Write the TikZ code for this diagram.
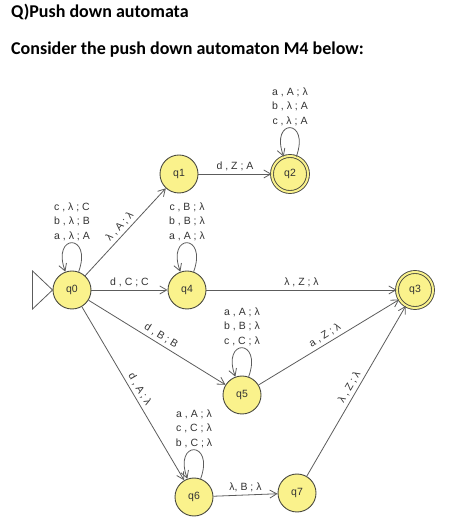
\documentclass[tikz,border=0pt]{standalone}
\usepackage{fontspec}
\setmainfont{Carlito}
\newfontfamily\pdafont{Liberation Sans}
\usepackage{xcolor}
\usepackage{tikz}
\usetikzlibrary{arrows.meta, positioning}
\definecolor{pdaYellow}{HTML}{FAF28C}
\definecolor{pdaBorder}{HTML}{4A4A40}
\definecolor{pdaEdge}{HTML}{5C5C5C}
\definecolor{pdaText}{HTML}{333333}
\tikzset{
  pda/state/.style     = {circle, draw=pdaBorder, fill=pdaYellow, line width=0.9pt,
                          minimum size=38pt, inner sep=0pt, text=pdaText,
                          font=\fontsize{10.5}{12}\pdafont},
  pda/final/.style     = {pda/state, double=pdaYellow, double distance=2pt, minimum size=36pt},
  pda/arrow/.style     = {-{Straight Barb[length=7pt, width=8pt]}, line width=0.8pt, draw=pdaEdge},
  pda/init/.style      = {line width=0.8pt, draw=pdaEdge},
  pda/loop/.style      = {out=70, in=110, distance=41pt},
  pda/label/.style     = {font=\fontsize{10.5}{12}\pdafont, text=pdaText, inner sep=3pt},
  pda/looplabel/.style = {above, align=center, font=\fontsize{10.5}{14.5}\pdafont,
                          text=pdaText, inner sep=2pt},
  pda/title/.style     = {anchor=west, inner sep=0pt, font=\fontsize{18}{22}\selectfont\bfseries},
}
\begin{document}
\begin{tikzpicture}[x=1pt, y=1pt]
      \useasboundingbox (0,0) rectangle (466,529);
      % heading
      \node[pda/title] (head) at (11,517) {Q)Push down automata};
      \node[pda/title] (ask)  at (11,479) {Consider the push down automaton M4 below:};
      % states
      \node[pda/state] (q0) at (72,239)  {q0};
      \node[pda/state] (q1) at (179,355) {q1};
      \node[pda/final] (q2) at (290,355) {q2};
      \node[pda/state] (q4) at (187,239) {q4};
      \node[pda/final] (q3) at (415,239) {q3};
      \node[pda/state] (q5) at (242,134) {q5};
      \node[pda/state] (q6) at (194,32)  {q6};
      \node[pda/state] (q7) at (297,36)  {q7};
      % start marker
      \draw[pda/init] (q0.west) -- ++(-20,19) -- ++(0,-38) -- cycle;
      % transitions
      \draw[pda/arrow] (q0) -- node[pda/label, sloped, above] {λ , A ; λ} (q1);
      \draw[pda/arrow] (q1) -- node[pda/label, above] {d , Z ; A} (q2);
      \draw[pda/arrow] (q0) -- node[pda/label, above] {d , C ; C} (q4);
      \draw[pda/arrow] (q4) -- node[pda/label, above] {λ , Z ; λ} (q3);
      \draw[pda/arrow] (q0) -- node[pda/label, sloped, above] {d , B ; B} (q5);
      \draw[pda/arrow] (q0) -- node[pda/label, sloped, above] {d , A ; λ} (q6);
      \draw[pda/arrow] (q5) -- node[pda/label, sloped, above] {a , Z ; λ} (q3);
      \draw[pda/arrow] (q6) -- node[pda/label, above] {λ, B ; λ} (q7);
      \draw[pda/arrow] (q7) -- node[pda/label, sloped, above] {λ , Z ; λ} (q3);
      % self loops
      \draw[pda/arrow] (q0) to[pda/loop] node[pda/looplabel] {c , λ ; C\\b , λ ; B\\a , λ ; A} (q0);
      \draw[pda/arrow] (q4) to[pda/loop] node[pda/looplabel] {c , B ; λ\\b , B ; λ\\a , A ; λ} (q4);
      \draw[pda/arrow] (q2) to[pda/loop] node[pda/looplabel] {a , A ; λ\\b , λ ; A\\c , λ ; A} (q2);
      \draw[pda/arrow] (q5) to[pda/loop] node[pda/looplabel] {a , A ; λ\\b , B ; λ\\c , C ; λ} (q5);
      \draw[pda/arrow] (q6) to[pda/loop] node[pda/looplabel] {a , A ; λ\\c , C ; λ\\b , C ; λ} (q6);
    \end{tikzpicture}
\end{document}
